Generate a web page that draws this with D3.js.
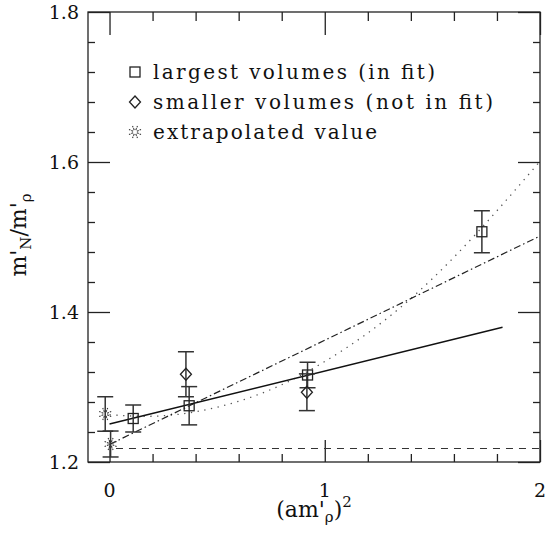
<!DOCTYPE html>
<html>
<head>
<meta charset="utf-8">
<script src="https://cdn.jsdelivr.net/npm/d3@7"></script>
<style>
  body { margin: 0; background: #fff; }
  svg { display: block; }
  text { font-family: "DejaVu Serif", serif; fill: #111; }
</style>
</head>
<body>
<div id="chart"></div>
<script>
// values
var squareX = [0.11, 0.37, 0.92, 1.73]
var squareY = [1.258, 1.275, 1.316, 1.507]
var squareErr = [0.018, 0.0255, 0.017, 0.028]

var diamondX = [0.355, 0.917]
var diamondY = [1.317, 1.293]
var diamondErr = [0.030, 0.0245]

var extrapX = [-0.02, 0.005]
var extrapY = [1.264, 1.224]
var extrapErr = [0.023, 0.0173]

// fit curves
var solidX = [0, 1.826]
var solidY = [1.2507, 1.3796]
var dashDotX = [0, 2]
var dashDotY = [1.2234, 1.5013]
var dottedX = [0, 0.2, 0.4, 0.6, 0.8, 1.0, 1.2, 1.4, 1.6, 1.8, 2.0]
var dottedY = [1.263, 1.261, 1.267, 1.281, 1.303, 1.334, 1.372, 1.418, 1.473, 1.535, 1.601]
var dashedX = [0.03, 2]
var dashedY = [1.218, 1.218]

var xTicks = [0, 1, 2]
var yTicks = [1.2, 1.4, 1.6, 1.8]

var legendLabels = ['largest volumes (in fit)', 'smaller volumes (not in fit)', 'extrapolated value']

const width = 547
const height = 533

var svg = d3.select('#chart').append('svg')
  .attr('width', width)
  .attr('height', height)

var x = d3.scaleLinear().domain([-0.1, 2]).range([88, 540])
var y = d3.scaleLinear().domain([1.2, 1.8]).range([462, 12])

var ink = '#222'

// frame
svg.append('rect')
  .attr('x', x(-0.1)).attr('y', y(1.8))
  .attr('width', x(2) - x(-0.1)).attr('height', y(1.2) - y(1.8))
  .attr('fill', 'none').attr('stroke', ink).attr('stroke-width', 1.3)

// ticks on all four sides
var xMinor = d3.range(0.2, 2, 0.2).filter(v => Math.abs(v - 1) > 0.01)
var yMinor = d3.range(1.24, 1.8, 0.04).filter(v => Math.abs(v * 5 - Math.round(v * 5)) > 0.01)

var bottomAxis = svg.append('g').attr('transform', 'translate(0,' + y(1.2) + ')')
bottomAxis.call(d3.axisTop(x).tickValues(xTicks).tickSize(22).tickFormat(''))
bottomAxis.append('g').call(d3.axisTop(x).tickValues(xMinor).tickSize(8).tickFormat(''))
var topAxis = svg.append('g').attr('transform', 'translate(0,' + y(1.8) + ')')
topAxis.call(d3.axisBottom(x).tickValues(xTicks).tickSize(23).tickFormat(''))
topAxis.append('g').call(d3.axisBottom(x).tickValues(xMinor).tickSize(9).tickFormat(''))
var leftAxis = svg.append('g').attr('transform', 'translate(' + x(-0.1) + ',0)')
leftAxis.call(d3.axisRight(y).tickValues(yTicks).tickSize(22).tickFormat(''))
leftAxis.append('g').call(d3.axisRight(y).tickValues(yMinor).tickSize(7).tickFormat(''))
var rightAxis = svg.append('g').attr('transform', 'translate(' + x(2) + ',0)')
rightAxis.call(d3.axisLeft(y).tickValues(yTicks).tickSize(22).tickFormat(''))
rightAxis.append('g').call(d3.axisLeft(y).tickValues(yMinor).tickSize(7).tickFormat(''))

svg.selectAll('.domain').remove()
svg.selectAll('.tick line').attr('stroke', ink).attr('stroke-width', 1.3)

// tick labels
svg.selectAll('.xlab').data(xTicks).enter().append('text')
  .attr('x', d => x(d)).attr('y', 497)
  .attr('text-anchor', 'middle').attr('font-size', 19)
  .text(d => d)
svg.selectAll('.ylab').data(yTicks).enter().append('text')
  .attr('x', 79).attr('y', d => y(d) + 7)
  .attr('text-anchor', 'end').attr('font-size', 19)
  .text(d => d.toFixed(1))

// axis titles
var xt = svg.append('text').attr('x', 314).attr('y', 517).attr('text-anchor', 'middle').attr('font-size', 22)
xt.append('tspan').text("(am'")
xt.append('tspan').attr('font-size', 15).attr('dy', 5).text('\u03c1')
xt.append('tspan').attr('dy', -5).text(')')
xt.append('tspan').attr('font-size', 15).attr('dy', -10).text('2')

var yt = svg.append('text').attr('transform', 'translate(26,235) rotate(-90)')
  .attr('text-anchor', 'middle').attr('font-size', 22)
yt.append('tspan').text("m'")
yt.append('tspan').attr('font-size', 15).attr('dy', 5).text('N')
yt.append('tspan').attr('dy', -5).text("/m'")
yt.append('tspan').attr('font-size', 15).attr('dy', 5).text('\u03c1')

// fit lines
var line = d3.line().x(d => x(d[0])).y(d => y(d[1]))
var curve = d3.line().x(d => x(d[0])).y(d => y(d[1])).curve(d3.curveNatural)

svg.append('path').datum(d3.zip(dashedX, dashedY)).attr('d', line)
  .attr('fill', 'none').attr('stroke', '#333').attr('stroke-width', 1.2).attr('stroke-dasharray', '7,6')
svg.append('path').datum(d3.zip(dottedX, dottedY)).attr('d', curve)
  .attr('fill', 'none').attr('stroke', '#555').attr('stroke-width', 1.3).attr('stroke-dasharray', '1.3,5.5')
svg.append('path').datum(d3.zip(dashDotX, dashDotY)).attr('d', line)
  .attr('fill', 'none').attr('stroke', '#222').attr('stroke-width', 1.2).attr('stroke-dasharray', '7,3,1.5,3')
svg.append('path').datum(d3.zip(solidX, solidY)).attr('d', line)
  .attr('fill', 'none').attr('stroke', '#111').attr('stroke-width', 1.4)

// error bars
function errorBars(xs, ys, es) {
  var g = svg.append('g').attr('stroke', '#333').attr('stroke-width', 1.5)
  xs.forEach(function (xv, i) {
    var cx = x(xv), lo = y(ys[i] - es[i]), hi = y(ys[i] + es[i])
    g.append('line').attr('x1', cx).attr('x2', cx).attr('y1', lo).attr('y2', hi)
    g.append('line').attr('x1', cx - 8).attr('x2', cx + 8).attr('y1', lo).attr('y2', lo)
    g.append('line').attr('x1', cx - 8).attr('x2', cx + 8).attr('y1', hi).attr('y2', hi)
  })
}
errorBars(squareX, squareY, squareErr)
errorBars(diamondX, diamondY, diamondErr)
errorBars(extrapX, extrapY, extrapErr)

// symbols
function square(g, cx, cy) {
  g.append('rect').attr('x', cx - 5).attr('y', cy - 5).attr('width', 10).attr('height', 10)
    .attr('fill', 'none').attr('stroke', '#222').attr('stroke-width', 1.3)
}
function diamond(g, cx, cy) {
  g.append('path').attr('d', 'M' + cx + ',' + (cy - 6) + 'L' + (cx + 5.5) + ',' + cy + 'L' + cx + ',' + (cy + 6) + 'L' + (cx - 5.5) + ',' + cy + 'Z')
    .attr('fill', 'none').attr('stroke', '#222').attr('stroke-width', 1.3)
}
function burst(g, cx, cy) {
  d3.range(8).forEach(function (k) {
    var a = k * Math.PI / 4 + Math.PI / 8
    g.append('line')
      .attr('x1', cx + 2 * Math.cos(a)).attr('y1', cy + 2 * Math.sin(a))
      .attr('x2', cx + 6.5 * Math.cos(a)).attr('y2', cy + 6.5 * Math.sin(a))
      .attr('stroke', '#333').attr('stroke-width', 1.1).attr('stroke-dasharray', '2,1')
  })
}

var marks = svg.append('g')
squareX.forEach((v, i) => square(marks, x(v), y(squareY[i])))
diamondX.forEach((v, i) => diamond(marks, x(v), y(diamondY[i])))
extrapX.forEach((v, i) => burst(marks, x(v), y(extrapY[i])))

// legend
var legend = svg.append('g')
var legendY = [72, 102, 132]
var legendW = [282, 340, 224]
var symbols = [square, diamond, burst]
legendLabels.forEach(function (label, i) {
  symbols[i](legend, 135, legendY[i])
  legend.append('text').attr('x', 153).attr('y', legendY[i] + 7)
    .attr('font-size', 20).attr('textLength', legendW[i]).attr('lengthAdjust', 'spacing')
    .text(label)
})
</script>
</body>
</html>
